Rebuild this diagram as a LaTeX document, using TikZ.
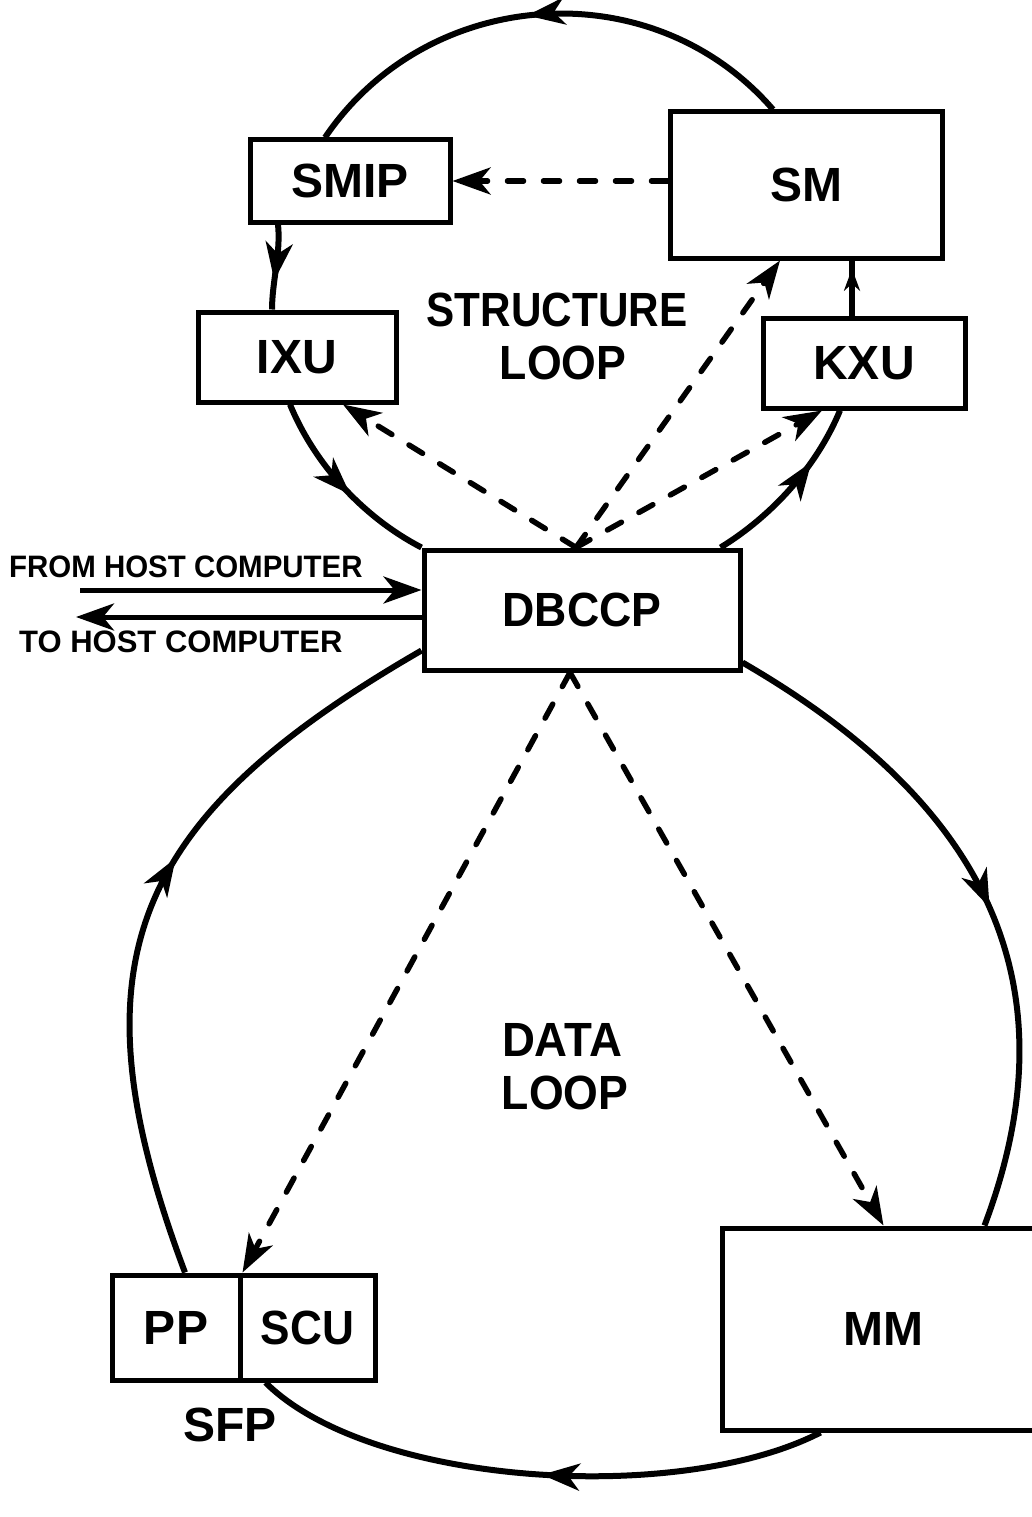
\documentclass[tikz,border=0pt]{standalone}
\usepackage{fontspec}
\setmainfont{Liberation Sans}
\usetikzlibrary{arrows.meta,decorations.markings}
\begin{document}
\begin{tikzpicture}[x=1pt,y=-1pt,
  >={Stealth[length=38pt,width=27pt,inset=11pt]},
  box/.style={draw,line width=5pt,inner sep=0pt,font=\fontsize{48}{50}\selectfont\bfseries},
  bbox/.style={box},
  txt/.style={inner sep=0pt,font=\fontsize{48}{50}\selectfont\bfseries},
  btxt/.style={txt},
  hosttxt/.style={inner sep=0pt,anchor=west,font=\fontsize{31}{32}\selectfont\bfseries},
  loopline/.style={line width=6pt},
  dashline/.style={line width=5.5pt,dash pattern=on 16pt off 20pt,line cap=round},
  hostline/.style={line width=5pt},
  midarrow/.style={postaction={decorate},decoration={markings,mark=at position #1 with {\arrow{>}}}},
  smallarrow/.style={postaction={decorate},decoration={markings,mark=at position #1 with {\arrow{Stealth[length=22pt,width=16pt,inset=7pt]}}}}
]
\path[use as bounding box] (0,0) rectangle (1032,1517);
\fill[white] (0,0) rectangle (1032,1517);
\clip (0,0) rectangle (1032,1517);

% boxes
\node[box,minimum width=200pt,minimum height=82pt] (smip) at (350,181) {SMIP};
\node[box,minimum width=272pt,minimum height=146pt] (sm) at (806,185) {SM};
\node[box,minimum width=198pt,minimum height=90pt] (ixu) at (297,357) {IXU};
\node[box,minimum width=202pt,minimum height=90pt] (kxu) at (864,363) {KXU};
\node[box,minimum width=316pt,minimum height=120pt] (dbccp) at (582,610) {\scalebox{0.93}[1]{DBCCP}};
\node[bbox,minimum width=128pt,minimum height=105pt] (pp) at (176,1327.5) {PP};
\node[bbox,minimum width=135pt,minimum height=105pt] (scu) at (307.5,1327.5) {\scalebox{0.92}[1]{SCU}};
\node[bbox,minimum width=323pt,minimum height=202pt] (mm) at (883.5,1329) {MM};

% texts
\node[txt] (strA) at (557,310) {\scalebox{0.88}[1]{STRUCTURE}};
\node[txt] (strB) at (563,363) {\scalebox{0.93}[1]{LOOP}};
\node[txt] (dataA) at (562,1040) {\scalebox{0.95}[1]{DATA}};
\node[txt] (dataB) at (565,1093) {\scalebox{0.93}[1]{LOOP}};
\node[btxt] (sfp) at (230,1425) {SFP};
\node[hosttxt] (fromlbl) at (9,567) {\scalebox{0.95}[1]{FROM HOST COMPUTER}};
\node[hosttxt] (tolbl) at (19,642) {TO HOST COMPUTER};

% structure loop
\draw[loopline,midarrow=0.53] ([xshift=-33pt]sm.north) .. controls (652.7,-29.9) and (428.2,-14.8) .. ([xshift=-25pt]smip.north);
\draw[loopline,midarrow=0.66] ([xshift=-72pt]smip.south) .. controls (281,252) and (272,282) .. ([xshift=-25pt]ixu.north);
\draw[loopline,midarrow=0.55] ([xshift=-7pt]ixu.south) .. controls (315.9,466.9) and (365.6,518.5) .. (dbccp.north west);
\draw[loopline,midarrow=0.68] ([xshift=-22pt]dbccp.north east) .. controls (771.9,515.9) and (816.3,467.3) .. ([xshift=-24pt]kxu.south);
\draw[loopline,smallarrow=0.85] ([xshift=-12pt]kxu.north) -- ([xshift=46pt]sm.south);

% dashed structure links
\draw[dashline,->] (sm.west |- smip.east) -- (smip.east);
\coordinate (dtop) at ([xshift=-6pt]dbccp.north);
\draw[dashline,->] (dtop) -- ([xshift=46pt]ixu.south);
\draw[dashline,->] (dtop) -- ([xshift=-26pt]sm.south);
\draw[dashline,->] (dtop) -- ([xshift=-42pt]kxu.south);

% host
\coordinate (fromstart) at (80,590);
\draw[hostline,->] (fromstart) -- (fromstart -| dbccp.west);
\coordinate (toend) at (76,617);
\draw[hostline,->] (toend -| dbccp.west) -- (toend);

% data loop
\draw[loopline,midarrow=0.57] ([xshift=9pt]pp.north) .. controls (69.5,965) and (128,820) .. ([yshift=22pt]dbccp.south west);
\draw[loopline,midarrow=0.52] ([yshift=10pt]dbccp.south east) .. controls (974.9,797) and (1079.5,974.2) .. ([xshift=101pt]mm.north);
\draw[loopline,midarrow=0.49] ([xshift=-63pt]mm.south) .. controls (679.2,1505.2) and (370,1486.5) .. ([xshift=-42pt]scu.south);

% dashed data links
\coordinate (dbot) at ([xshift=-12pt]dbccp.south);
\draw[dashline,->] (dbot) -- ([xshift=5pt]scu.north west);
\draw[dashline,->] (dbot) -- (mm.north);
\end{tikzpicture}
\end{document}
